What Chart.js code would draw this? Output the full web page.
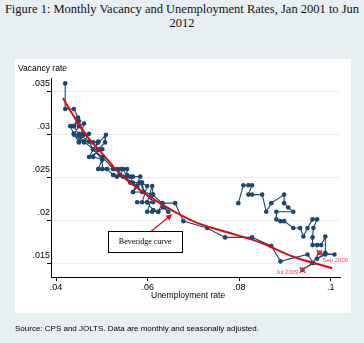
<!DOCTYPE html>
<html>
<head>
<meta charset="utf-8">
<script src="https://cdn.jsdelivr.net/npm/chart.js@4.4.1/dist/chart.umd.min.js"></script>
<style>
	body { margin: 0; width: 364px; height: 343px; background: #e7eff2; position: relative; overflow: hidden; }
	#title { position: absolute; left: 0; top: 2px; width: 364px; text-align: center; font: 12.5px "Liberation Serif", "Times New Roman", serif; line-height: 14px; color: #111; }
	#panel { position: absolute; left: 15px; top: 59px; width: 336px; height: 254px; background: #fff; }
	#myChart { position: absolute; left: 0; top: 0; }
	.axt { position: absolute; font: 8.5px "Liberation Sans", Arial, sans-serif; color: #000; white-space: nowrap; }
	#source { position: absolute; left: 15px; top: 324px; font: 8px "Liberation Sans", Arial, sans-serif; color: #000; }
</style>
</head>
<body>
<div id="title">Figure 1: Monthly Vacancy and Unemployment Rates, Jan 2001 to Jun<br>2012</div>
<div id="panel">
	<canvas id="myChart" width="336" height="254"></canvas>
	<div class="axt" style="left:3px; top:4px;">Vacancy rate</div>
	<div class="axt" style="left:136px; top:231px;">Unemployment rate</div>
</div>
<div id="source">Source: CPS and JOLTS. Data are monthly and seasonally adjusted.</div>

<script>
// monthly unemployment rate, Jan 2001 .. Jun 2012
const unemp = [
	.0420, .0420, .0439, .0448, .0439, .0450, .0461, .0481, .0501, .0525, .0546, .0555,
	.0568, .0562, .0577, .0588, .0568, .0584, .0599, .0588, .0577, .0599, .0610, .0612,
	.0599, .0610, .0623, .0634, .0645, .0632, .0623, .0612, .0599, .0612, .0592, .0588,
	.0577, .0568, .0584, .0562, .0555, .0555, .0546, .0540, .0533, .0540, .0533, .0525,
	.0511, .0525, .0501, .0492, .0501, .0481, .0501, .0472, .0492, .0481, .0492, .0472,
	.0461, .0472, .0461, .0450, .0439, .0450, .0461, .0450, .0439, .0431, .0439, .0450,
	.0461, .0450, .0439, .0461, .0450, .0472, .0481, .0509, .0507, .0492, .0481, .0501,
	.0501, .0511, .0525, .0546, .0568, .0584, .0592, .0610, .0632, .0660, .0678, .0730,
	.0769, .0828, .0870, .0890, .0949, .0962, .0938, .0960, .0975, .1008, .0988, .0970,
	.0988, .0988, .0979, .0970, .0960, .0960, .0962, .0970, .0960, .0949, .0940, .0933,
	.0918, .0898, .0890, .0881, .0881, .0918, .0907, .0898, .0898, .0870, .0859, .0850,
	.0828, .0820, .0828, .0820, .0809, .0798
];
// monthly job openings (vacancy) rate, same months
const vacancy = [
	.0360, .0330, .0330, .0320, .0310, .0300, .0292, .0283, .0274, .0260, .0260, .0251,
	.0251, .0244, .0240, .0233, .0233, .0244, .0240, .0221, .0221, .0221, .0240, .0230,
	.0210, .0210, .0210, .0215, .0210, .0220, .0210, .0212, .0221, .0221, .0233, .0244,
	.0240, .0233, .0251, .0251, .0253, .0260, .0260, .0253, .0260, .0260, .0251, .0253,
	.0260, .0260, .0260, .0260, .0271, .0283, .0283, .0274, .0292, .0291, .0291, .0292,
	.0292, .0301, .0300, .0299, .0301, .0310, .0313, .0291, .0301, .0310, .0310, .0316,
	.0301, .0292, .0300, .0291, .0301, .0292, .0283, .0300, .0291, .0283, .0274, .0271,
	.0260, .0260, .0253, .0251, .0244, .0244, .0233, .0230, .0220, .0220, .0199, .0191,
	.0180, .0180, .0170, .0152, .0160, .0150, .0142, .0150, .0162, .0160, .0160, .0155,
	.0162, .0181, .0171, .0171, .0171, .0180, .0191, .0201, .0201, .0191, .0181, .0191,
	.0191, .0199, .0199, .0201, .0210, .0210, .0215, .0220, .0230, .0220, .0210, .0230,
	.0230, .0230, .0241, .0241, .0241, .0220
];

// fitted Beveridge curve
const fitU = [.0415, .0437, .0468, .0501, .0546, .0621, .0699, .0774, .0846, .0920, .1003];
const fitV = [.0343, .0323, .0298, .0278, .0251, .0222, .0199, .0186, .0174, .0157, .0144];

// marked months
const markU = [.0938, .0975];
const markV = [.0142, .0162];
const markLabels = ['Jul 2009', 'Sep 2009'];

const xTicks = [.04, .06, .08, .1];
const yTicks = [.015, .02, .025, .03, .035];

function fmt(v) {
	return String(+v.toFixed(3)).replace(/^0/, '');
}

const navy = '#1a476f';
const red = '#d40d12';
const tickFont = { family: '"Liberation Sans", Arial, sans-serif', size: 9 };

// box + arrow note and the month labels
const notes = {
	id: 'notes',
	afterDatasetsDraw(chart) {
		const ctx = chart.ctx;
		const x = chart.scales.x, y = chart.scales.y;
		ctx.save();

		// "Beveridge curve" box
		let bx0 = x.getPixelForValue(.05137), bx1 = x.getPixelForValue(.06754);
		let by0 = y.getPixelForValue(.01872), by1 = y.getPixelForValue(.01628);
		ctx.fillStyle = '#fff';
		ctx.fillRect(bx0, by0, bx1 - bx0, by1 - by0);
		ctx.strokeStyle = '#000';
		ctx.lineWidth = 1;
		ctx.strokeRect(Math.round(bx0) + .5, Math.round(by0) + .5, Math.round(bx1 - bx0), Math.round(by1 - by0));
		ctx.fillStyle = '#000';
		ctx.font = '8px "Liberation Serif", "Times New Roman", serif';
		ctx.textAlign = 'center';
		ctx.textBaseline = 'middle';
		ctx.fillText('Beveridge curve', (bx0 + bx1) / 2, (by0 + by1) / 2 + .5);

		// arrow to the curve
		let ax0 = x.getPixelForValue(.06077), ay0 = y.getPixelForValue(.01872);
		let ax1 = x.getPixelForValue(.06535), ay1 = y.getPixelForValue(.02070);
		let ang = Math.atan2(ay1 - ay0, ax1 - ax0);
		ctx.strokeStyle = red;
		ctx.fillStyle = red;
		ctx.lineWidth = 1.2;
		ctx.beginPath();
		ctx.moveTo(ax0, ay0);
		ctx.lineTo(ax1 - 4 * Math.cos(ang), ay1 - 4 * Math.sin(ang));
		ctx.stroke();
		ctx.beginPath();
		ctx.moveTo(ax1, ay1);
		ctx.lineTo(ax1 - 6 * Math.cos(ang) + 3 * Math.sin(ang), ay1 - 6 * Math.sin(ang) - 3 * Math.cos(ang));
		ctx.lineTo(ax1 - 6 * Math.cos(ang) - 3 * Math.sin(ang), ay1 - 6 * Math.sin(ang) + 3 * Math.cos(ang));
		ctx.closePath();
		ctx.fill();

		// month labels beside the crosses
		ctx.font = '6px "Liberation Sans", Arial, sans-serif';
		ctx.fillStyle = '#ff4b4b';
		ctx.textBaseline = 'middle';
		let p0 = chart.getDatasetMeta(2).data[0], p1 = chart.getDatasetMeta(2).data[1];
		ctx.textAlign = 'right';
		ctx.fillText(markLabels[0], p0.x - 4, p0.y + 2);
		ctx.textAlign = 'left';
		ctx.fillText(markLabels[1], p1.x + 3, p1.y + 8);
		ctx.restore();
	}
};

const ctx = document.getElementById('myChart').getContext('2d');
const myChart = new Chart(ctx, {
	type: 'scatter',
	data: {
		datasets: [{
			data: unemp.map((u, i) => ({ x: u, y: vacancy[i] })),
			showLine: true,
			borderColor: navy,
			backgroundColor: navy,
			borderWidth: 1.1,
			pointRadius: 2.3,
			pointBorderWidth: 0,
			order: 2
		}, {
			data: fitU.map((u, i) => ({ x: u, y: fitV[i] })),
			showLine: true,
			borderColor: red,
			borderWidth: 2,
			pointRadius: 0,
			tension: 0.4,
			order: 1
		}, {
			data: markU.map((u, i) => ({ x: u, y: markV[i] })),
			pointStyle: 'crossRot',
			pointRadius: 4,
			borderColor: '#ff2020',
			borderWidth: 1.2,
			order: 0
		}]
	},
	options: {
		responsive: false,
		animation: false,
		events: [],
		layout: { padding: { top: 19, right: 11 } },
		plugins: {
			legend: { display: false },
			tooltip: { enabled: false }
		},
		scales: {
			x: {
				type: 'linear',
				min: .0389,
				max: .102,
				afterBuildTicks: s => { s.ticks = xTicks.map(v => ({ value: v })); },
				afterFit: s => { s.height = 36; },
				ticks: {
					font: tickFont,
					color: '#000',
					padding: 1,
					callback: v => fmt(v)
				},
				grid: {
					drawOnChartArea: false,
					tickLength: 4,
					tickColor: '#000'
				},
				border: { color: '#000', width: 1 }
			},
			y: {
				min: .01337,
				max: .03663,
				afterBuildTicks: s => { s.ticks = yTicks.map(v => ({ value: v })); },
				afterFit: s => { s.width = 36; },
				ticks: {
					font: tickFont,
					color: '#000',
					padding: -3,
					labelOffset: -8,
					callback: v => fmt(v)
				},
				grid: {
					color: '#e6eef1',
					lineWidth: 1,
					tickLength: 4,
					tickColor: '#000'
				},
				border: { color: '#000', width: 1 }
			}
		}
	},
	plugins: [notes]
});
</script>
</body>
</html>
